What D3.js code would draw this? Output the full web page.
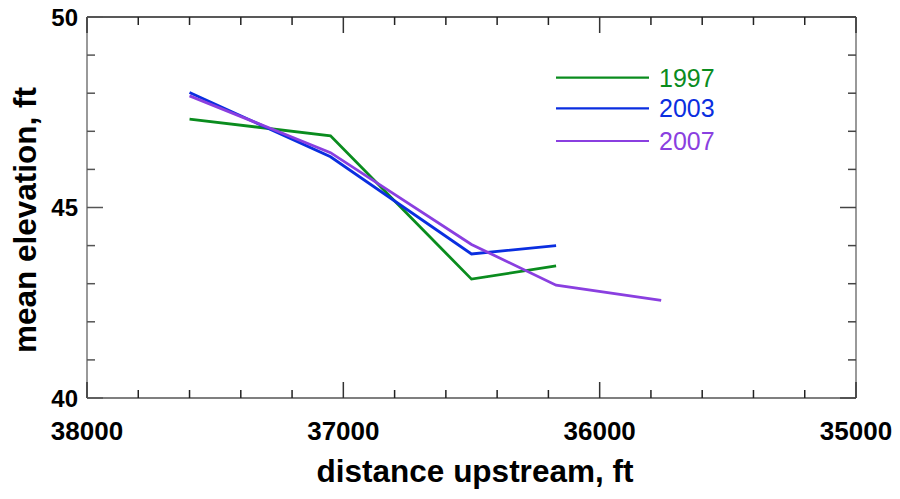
<!DOCTYPE html>
<html><head><meta charset="utf-8">
<script src="https://cdn.jsdelivr.net/npm/d3@7"></script>
<style>body{margin:0;background:#fff}svg{display:block}</style>
</head><body>
<script>
const years = ["1997","2003","2007"];
const colors = ["#0a8c1e","#0a2ee0","#8a3fe0"];
const dist1997 = [37600, 37050, 36500, 36170];
const elev1997 = [47.32, 46.88, 43.12, 43.47];
const dist2003 = [37600, 37050, 36500, 36170];
const elev2003 = [48.02, 46.33, 43.78, 44.0];
const dist2007 = [37600, 37050, 36500, 36170, 35760];
const elev2007 = [47.93, 46.44, 44.03, 42.96, 42.56];
const xTickLabels = [38000, 37000, 36000, 35000];
const yTickLabels = [40, 45, 50];

const series = [
  {name: years[0], color: colors[0], x: dist1997, y: elev1997},
  {name: years[1], color: colors[1], x: dist2003, y: elev2003},
  {name: years[2], color: colors[2], x: dist2007, y: elev2007}
];

const W = 900, H = 499;
const L = 87, R = 856, T = 17, B = 398;
const FONT = "Liberation Sans, Arial, Helvetica, sans-serif";
const svg = d3.select("body").append("svg").attr("width", W).attr("height", H);
const x = d3.scaleLinear().domain([38000, 35000]).range([L, R]);
const y = d3.scaleLinear().domain([40, 50]).range([B, T]);

// frame
const g = svg.append("g");
g.append("line").attr("x1", L).attr("x2", R).attr("y1", T).attr("y2", T).attr("stroke", "#222").attr("stroke-width", 1.5);
g.append("line").attr("x1", L).attr("x2", R).attr("y1", B).attr("y2", B).attr("stroke", "#555").attr("stroke-width", 1.5);
g.append("line").attr("x1", L).attr("x2", L).attr("y1", T).attr("y2", B).attr("stroke", "#777").attr("stroke-width", 1.5);
g.append("line").attr("x1", R).attr("x2", R).attr("y1", T).attr("y2", B).attr("stroke", "#777").attr("stroke-width", 1.5);

// x ticks
const xMinor = d3.range(38000, 34999, -200);
xMinor.forEach(v => {
  const major = v % 1000 === 0;
  const len = major ? 16 : 8;
  const col = major ? "#333" : "#222";
  g.append("line").attr("x1", x(v)).attr("x2", x(v)).attr("y1", B).attr("y2", B - len).attr("stroke", col).attr("stroke-width", 1.5);
  g.append("line").attr("x1", x(v)).attr("x2", x(v)).attr("y1", T).attr("y2", T + len).attr("stroke", col).attr("stroke-width", 1.5);
});
// y ticks
d3.range(40, 50.01, 1).forEach(v => {
  const major = v % 5 === 0;
  const len = major ? 16 : 8;
  g.append("line").attr("y1", y(v)).attr("y2", y(v)).attr("x1", L).attr("x2", L + len).attr("stroke", "#555").attr("stroke-width", 1.5);
  g.append("line").attr("y1", y(v)).attr("y2", y(v)).attr("x1", R).attr("x2", R - len).attr("stroke", "#444").attr("stroke-width", 1.5);
});

// tick labels
svg.selectAll(".xl").data(xTickLabels).enter().append("text")
  .attr("x", d => x(d)).attr("y", 439.5).attr("text-anchor", "middle")
  .attr("font-family", FONT).attr("font-weight", "bold").attr("font-size", 26)
  .text(d => d);
svg.selectAll(".yl").data(yTickLabels).enter().append("text")
  .attr("x", 78).attr("y", d => y(d) + 8.5).attr("text-anchor", "end")
  .attr("font-family", FONT).attr("font-weight", "bold").attr("font-size", 24)
  .text(d => d);

// axis titles
svg.append("text").attr("x", 475).attr("y", 482).attr("text-anchor", "middle")
  .attr("font-family", FONT).attr("font-weight", "bold").attr("font-size", 31.5)
  .text("distance upstream, ft");
svg.append("text").attr("transform", "translate(36,220) rotate(-90)").attr("text-anchor", "middle")
  .attr("font-family", FONT).attr("font-weight", "bold").attr("font-size", 31.5)
  .text("mean elevation, ft");

// lines
const line = d3.line().x(d => x(d[0])).y(d => y(d[1]));
series.forEach(s => {
  svg.append("path").datum(s.x.map((v, i) => [v, s.y[i]]))
    .attr("d", line).attr("fill", "none").attr("stroke", s.color).attr("stroke-width", 2.8)
    .attr("stroke-linejoin", "miter");
});

// legend
series.forEach((s, i) => {
  const ly = [77.7, 108.3, 141][i];
  svg.append("line").attr("x1", 556).attr("x2", 649).attr("y1", ly).attr("y2", ly)
    .attr("stroke", s.color).attr("stroke-width", 2.2);
  svg.append("text").attr("x", 659).attr("y", ly + 9)
    .attr("font-family", FONT).attr("font-size", 25)
    .attr("fill", s.color).text(s.name);
});
</script>
</body></html>
